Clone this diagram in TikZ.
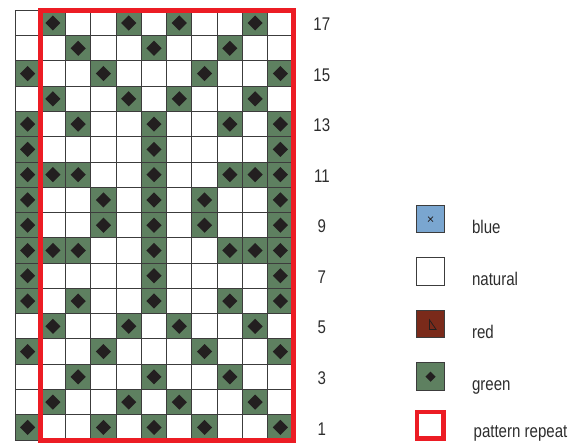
\documentclass[tikz,border=0pt]{standalone}
\usepackage{fontspec}
\setmainfont{Liberation Sans}[FakeStretch=0.82]
\usetikzlibrary{positioning}
\definecolor{kgreen}{RGB}{94,128,96}
\definecolor{kblue}{RGB}{122,166,208}
\definecolor{kred}{RGB}{122,42,26}
\definecolor{rptred}{RGB}{236,28,36}
\definecolor{gline}{RGB}{60,60,60}
\definecolor{ink}{RGB}{35,31,32}
\definecolor{txt}{RGB}{45,45,45}
\tikzset{
  gridln/.style={gline, line width=0.65pt},
  gsq/.style={fill=kgreen},
  dmd/.style={fill=ink},
  rpt/.style={draw=rptred, line width=3.4pt},
  rnum/.style={font=\fontsize{12.4}{14}\selectfont, text=txt},
  key/.style={draw=gline, line width=0.65pt, minimum size=0.654cm, inner sep=0pt},
  klab/.style={font=\fontsize{12.4}{14}\selectfont, text=txt, anchor=base west, inner sep=0pt},
}

\begin{document}
\begin{tikzpicture}[x=0.6cm, y=0.6cm]
  \useasboundingbox (-0.593,-0.079) rectangle (22.59,17.41);
  % green stitches: row / columns
  \foreach \r/\cols in {17/{1,4,6,9}, 16/{2,5,8}, 15/{0,3,7,10}, 14/{1,4,6,9},
      13/{0,2,5,8,10}, 12/{0,5,10}, 11/{0,1,2,5,8,9,10}, 10/{0,3,5,7,10},
      9/{0,3,5,7,10}, 8/{0,1,2,5,8,9,10}, 7/{0,5,10}, 6/{0,2,5,8,10},
      5/{1,4,6,9}, 4/{0,3,7,10}, 3/{2,5,8}, 2/{1,4,6,9}, 1/{0,3,5,7,10}}
    \foreach \c in \cols {
      \fill[gsq] (\c,\r-1) rectangle ++(1,1);
      \fill[dmd] (\c+0.5,\r-0.2) -- ++(0.3,-0.3) -- ++(-0.3,-0.3) -- ++(-0.3,0.3) -- cycle;
    }
  \draw[gridln, step=0.6cm] (0,0) grid (11,17);
  % pattern repeat
  \draw[rpt] (1,0) rectangle (11,17);
  % row numbers
  \foreach \r in {1,3,...,17}
    \node[rnum] (row\r) at (12.14,\r-0.55) {\r};

  % key
  \node[key, fill=kblue] (kb) at (16.44,8.74) {};
  \draw[ink, line width=0.5pt] ([shift={(-0.1,-0.1)}]kb.center) -- ([shift={(0.1,0.1)}]kb.center)
    ([shift={(-0.1,0.1)}]kb.center) -- ([shift={(0.1,-0.1)}]kb.center);
  \node[key, fill=white, below=0.57cm of kb] (kn) {};
  \node[key, fill=kred, below=0.57cm of kn] (kr) {};
  \draw[ink, line width=0.5pt] ([shift={(-0.04,0.17)}]kr.center) -- ([shift={(-0.04,-0.21)}]kr.center)
    -- ([shift={(0.22,-0.21)}]kr.center) -- cycle;
  \node[key, fill=kgreen, below=0.57cm of kr] (kg) {};
  \fill[dmd] ([shift={(0,0.2)}]kg.center) -- ([shift={(0.2,0)}]kg.center)
    -- ([shift={(0,-0.2)}]kg.center) -- ([shift={(-0.2,0)}]kg.center) -- cycle;
  \node[key, draw=rptred, line width=3pt, minimum size=0.63cm] (kp) at (16.42,0.58) {};

  \node[klab] (lb) at ([xshift=0.64cm]kb.south east) {blue};
  \node[klab] (ln) at ([xshift=0.64cm]kn.south east) {natural};
  \node[klab] (lr) at ([xshift=0.64cm]kr.south east) {red};
  \node[klab] (lg) at ([xshift=0.64cm]kg.south east) {green};
  \node[klab] (lp) at ([xshift=0.66cm, yshift=0.07cm]kp.south east) {pattern repeat};
\end{tikzpicture}
\end{document}
